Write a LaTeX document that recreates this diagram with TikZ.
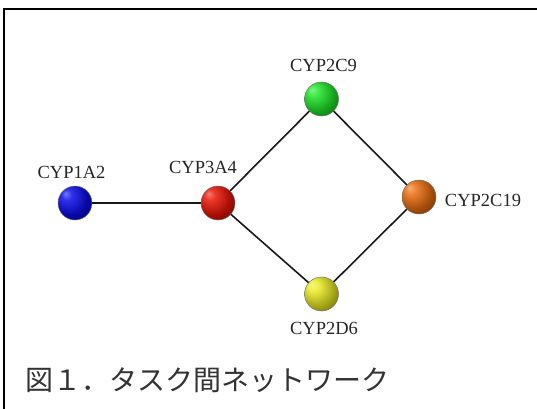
\documentclass[tikz,border=0pt]{standalone}
\usepackage{fontspec}
\setmainfont{Liberation Serif}
\newfontfamily\cjk{Noto Sans CJK JP}

% shaded sphere: highlight up-left, darker rim lower-right
\colorlet{orbc}{blue}
\pgfdeclareradialshading[orbc]{orb}{\pgfpoint{-14bp}{14bp}}{%
  color(0bp)=(orbc!55!white);
  color(8bp)=(orbc!85!white);
  color(26bp)=(orbc!70!black);
  color(40bp)=(orbc!45!black);
  color(60bp)=(orbc!30!black)}

\definecolor{cblue}{RGB}{10,10,235}
\definecolor{cred}{RGB}{235,20,5}
\definecolor{cgreen}{RGB}{30,230,40}
\definecolor{corange}{RGB}{235,110,15}
\definecolor{cyellow}{RGB}{235,235,35}

\tikzset{
  sphere/.style={circle, minimum size=34pt, inner sep=0pt,
    draw=black!55, line width=0.5pt,
    /utils/exec={\colorlet{orbc}{#1}}, shading=orb},
  lbl/.style={font=\fontsize{18.5}{20}\selectfont, text=black!85, inner sep=0pt},
  link/.style={line width=1.6pt, black!90},
  frame/.style={line width=2pt, black}
}

\begin{document}
\begin{tikzpicture}[x=1pt, y=-1pt]
  \useasboundingbox (0,0) rectangle (537,408);
  \fill[white] (0,0) rectangle (537,408);

  % open frame: left and top sides only
  \coordinate (fb) at (4,409);
  \coordinate (fc) at (4,9);
  \coordinate (fr) at (538,9);
  \draw[frame] (fb) -- (fc) -- (fr);

  % enzymes
  \node[sphere=cblue]   (a12) at (75,203) {};
  \node[sphere=cred]    (a34) at (218,203) {};
  \node[sphere=cgreen]  (c9)  at (321.5,99) {};
  \node[sphere=corange] (c19) at (419,197) {};
  \node[sphere=cyellow] (d6)  at (321.5,294) {};

  % interactions
  \draw[link] (a12) -- (a34);
  \draw[link] (a34) -- (c9);
  \draw[link] (a34) -- (d6);
  \draw[link] (c9) -- (c19);
  \draw[link] (d6) -- (c19);

  % labels
  \node[lbl] (t12) at (71.5,172.5) {CYP1A2};
  \node[lbl] (t34) at (203,167) {CYP3A4};
  \node[lbl] (t9) at (323.5,65.5) {CYP2C9};
  \node[lbl] (t19) at (483,200.5) {CYP2C19};
  \node[lbl] (t6) at (324,328.5) {CYP2D6};

  % caption
  \node[anchor=west, inner sep=0pt, font=\cjk\fontsize{28}{30}\selectfont, text=black!80] (cap) at (25,380) {図１．タスク間ネットワーク};
\end{tikzpicture}
\end{document}
